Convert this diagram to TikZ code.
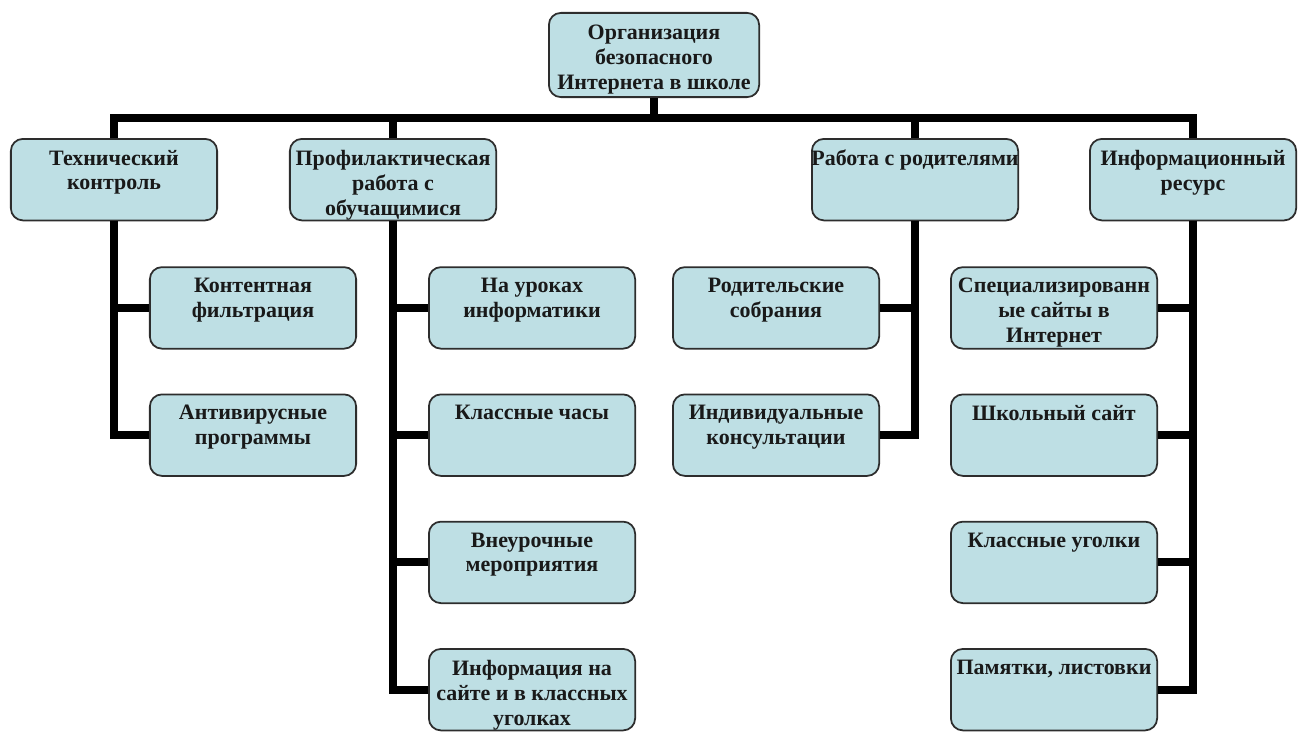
\documentclass[tikz,border=0pt]{standalone}
\usepackage{fontspec}
\setmainfont{Liberation Serif}
\usetikzlibrary{positioning}
\definecolor{boxfill}{RGB}{190,223,228}
\definecolor{boxline}{RGB}{45,45,45}
\newcommand{\boxtext}[1]{\parbox[t][1.19cm][t]{4.1cm}{\centering #1}}

\begin{document}
\begin{tikzpicture}[box/.style={rectangle, draw=boxline, line width=1pt, rounded corners=0.24cm, fill=boxfill, inner xsep=0pt, inner ysep=0.22cm, minimum width=4.125cm, minimum height=1.63cm, font=\bfseries\fontsize{12.5}{14.2}\selectfont, text=black!90}, bus/.style={line width=4.5pt, line join=miter}, node distance=0.88cm]

\useasboundingbox (0,0) rectangle (26.06,-14.72);

% Root
\node[box, minimum width=4.205cm, minimum height=1.685cm] (root) at (13.08,-1.1) {\boxtext{Организация\\безопасного\\Интернета в школе}};

% Main branches
\node[box, below=0.8cm of root, xshift=-10.8cm] (tech) {\boxtext{Технический\\контроль}};
\node[box, below=0.8cm of root, xshift=-5.22cm] (prof) {\boxtext{Профилактическая\\работа с\\обучащимися}};
\node[box, below=0.8cm of root, xshift=5.22cm] (par) {\boxtext{\makebox[4.1cm]{Работа с родителями}}};
\node[box, below=0.8cm of root, xshift=10.78cm] (info) {\boxtext{Информационный\\ресурс}};

% Technical control
\node[box, below=0.9cm of tech, xshift=2.78cm] (tech1) {\boxtext{Контентная\\фильтрация}};
\node[box, below=of tech1] (tech2) {\boxtext{Антивирусные\\программы}};

% Prevention work
\node[box, below=0.9cm of prof, xshift=2.78cm] (prof1) {\boxtext{На уроках\\информатики}};
\node[box, below=of prof1] (prof2) {\boxtext{Классные часы}};
\node[box, below=of prof2] (prof3) {\boxtext{Внеурочные\\мероприятия}};
\node[box, below=of prof3] (prof4) {\boxtext{Информация на\\сайте и в классных\\уголках}};

% Parents
\node[box, below=0.9cm of par, xshift=-2.78cm] (par1) {\boxtext{Родительские\\собрания}};
\node[box, below=of par1] (par2) {\boxtext{Индивидуальные\\консультации}};

% Information resource
\node[box, below=0.9cm of info, xshift=-2.78cm] (info1) {\boxtext{Специализированн\\ые сайты в\\Интернет}};
\node[box, below=of info1] (info2) {\boxtext{Школьный сайт}};
\node[box, below=of info2] (info3) {\boxtext{Классные уголки}};
\node[box, below=of info3] (info4) {\boxtext{Памятки, листовки}};

% Top bus
\coordinate (hub) at ([yshift=-0.4cm]root.south);
\draw[bus] (root.south) -- (hub);
\draw[bus] (tech.north) |- (hub) -| (info.north);
\draw[bus] (prof.north) -- (prof.north |- hub);
\draw[bus] (par.north) -- (par.north |- hub);

% Branch buses
\draw[bus] (tech.south) |- (tech2.west);
\draw[bus] (tech.south |- tech1.west) -- (tech1.west);

\draw[bus] (prof.south) |- (prof4.west);
\foreach \k in {1,2,3}
  \draw[bus] (prof.south |- prof\k.west) -- (prof\k.west);

\draw[bus] (par.south) |- (par2.east);
\draw[bus] (par.south |- par1.east) -- (par1.east);

\draw[bus] (info.south) |- (info4.east);
\foreach \k in {1,2,3}
  \draw[bus] (info.south |- info\k.east) -- (info\k.east);

\end{tikzpicture}
\end{document}
